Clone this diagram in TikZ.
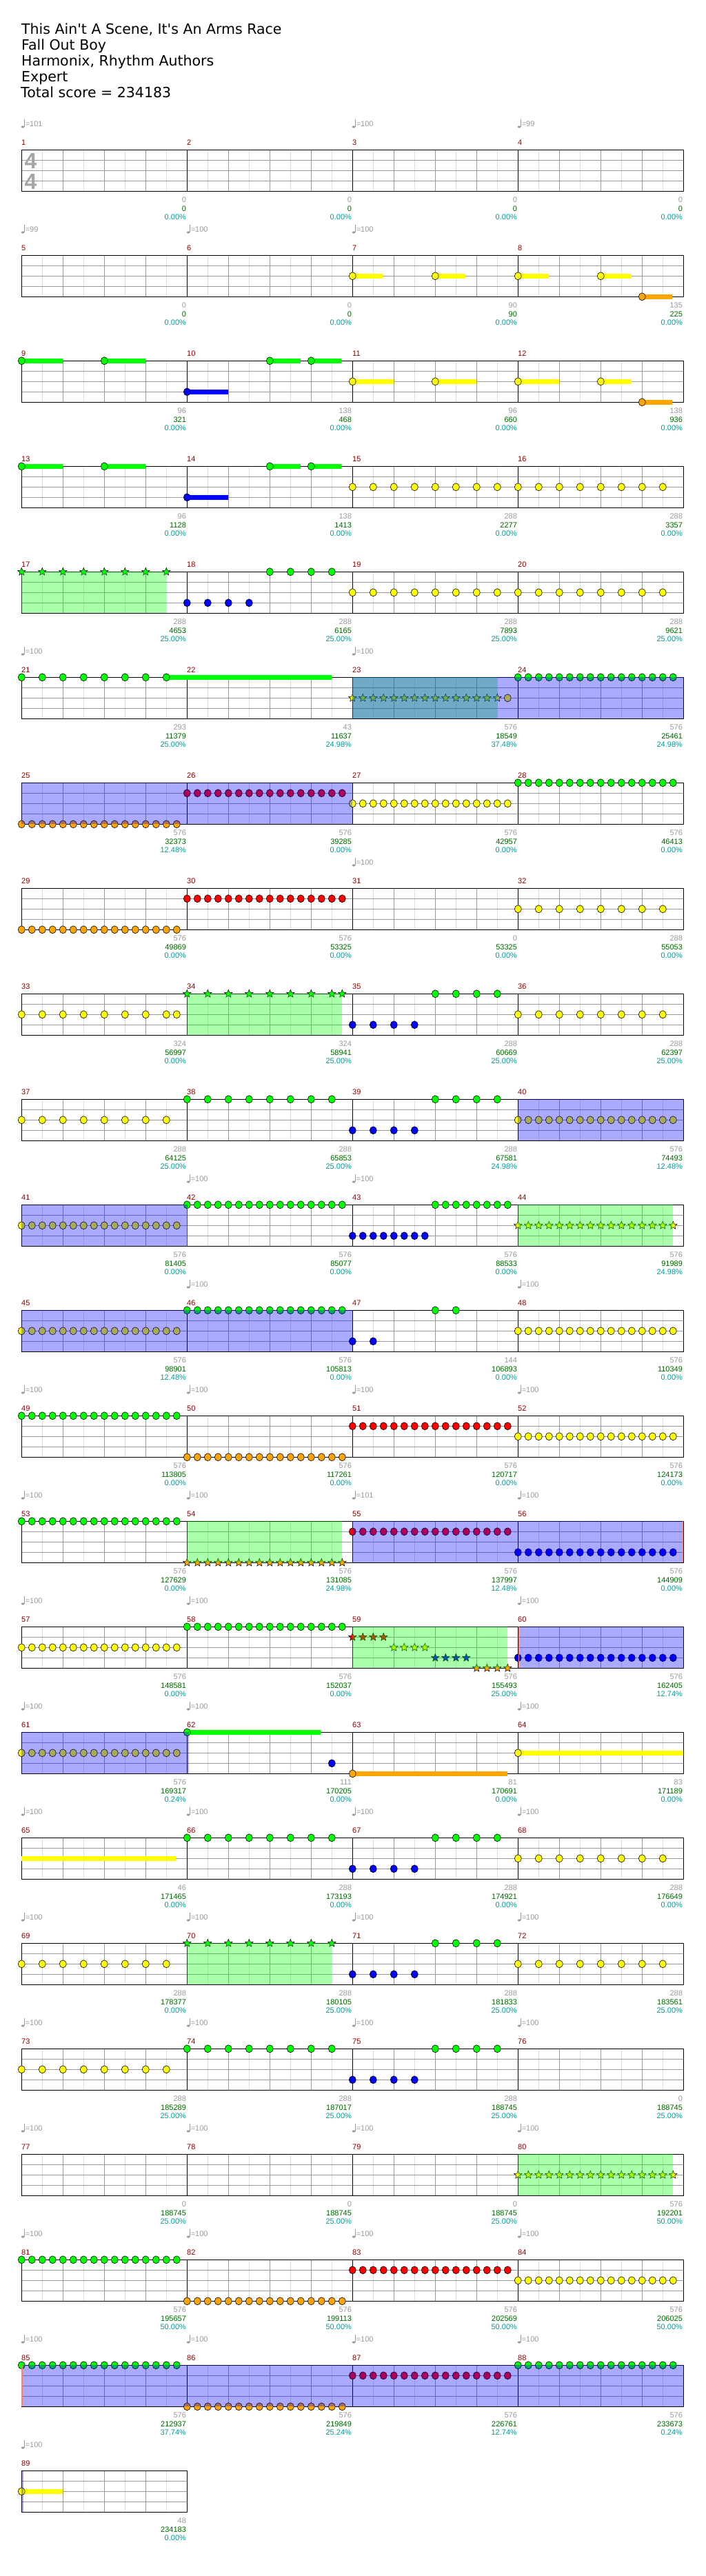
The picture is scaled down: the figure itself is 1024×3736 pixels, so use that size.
\documentclass[tikz,border=0pt]{standalone}
\usepackage{fontspec}
\setmainfont{Liberation Sans}
\newfontfamily\titlefam{DejaVu Sans}
\usetikzlibrary{shapes.geometric}
\definecolor{nG}{RGB}{0,255,0}
\definecolor{nR}{RGB}{255,0,0}
\definecolor{nY}{RGB}{255,255,0}
\definecolor{nB}{RGB}{0,0,255}
\definecolor{nO}{RGB}{255,165,0}
\definecolor{lg}{RGB}{221,221,221}
\definecolor{mg}{RGB}{153,153,153}
\definecolor{tsg}{RGB}{165,165,165}
\definecolor{barred}{RGB}{139,0,0}
\definecolor{scgreen}{RGB}{0,100,0}
\definecolor{pcteal}{RGB}{0,153,153}
\definecolor{salm}{RGB}{250,130,120}
\newcommand\smallf{\fontsize{11}{13}\selectfont}
\newcommand\titlef{\titlefam\fontsize{20.5}{23}\selectfont}
\newcommand\chSetM[1]{\pgfmathtruncatemacro\mrow{(#1-1)/4}\pgfmathtruncatemacro\mcol{#1-1-4*\mrow}\pgfmathsetmacro\mx{31.3+240*\mcol}\pgfmathsetmacro\my{217.3+153*\mrow}}
% notes: measure, lane offset, colour, start, step, count
\newcommand\chNotes[6]{\chSetM{#1}\foreach \k in {1,...,#6}{\filldraw[fill=#3,notehead] (\mx+#4+#5*\k-#5,\my+#2) ellipse[x radius=5,y radius=5.5];}}
\newcommand\chStars[6]{\chSetM{#1}\foreach \k in {1,...,#6}{\node[starnote,fill=#3] at (\mx+#4+#5*\k-#5,\my+#2) {};}}
\newcommand\chSus[5]{\chSetM{#1}\fill[#3] (\mx+#4,\my+#2-3.5) rectangle (\mx+#5,\my+#2+3.5);}
\newcommand\chGreen[3]{\chSetM{#1}\fill[nG,fill opacity=0.333] (\mx+#2,\my) rectangle (\mx+#3,\my+60);}
\newcommand\chBlue[3]{\chSetM{#1}\fill[nB,fill opacity=0.333] (\mx+#2,\my) rectangle (\mx+#3,\my+60);}
\newcommand\chMark[3]{\chSetM{#1}\draw[#3,line width=1.2] (\mx+#2,\my) -- ++(0,60);}
\newcommand\chGrid[2]{\pgfmathsetmacro\gT{217.3+153*(#1-1)}\pgfmathsetmacro\gW{240*#2}%
 \foreach \c in {1,...,#2}{\foreach \bb in {30,90,150,210}{\draw[lg] (31.3+240*\c-240+\bb,\gT) -- ++(0,60);}}%
 \foreach \yy in {15,30,45}{\draw[mg] (31.3,\gT+\yy) -- ++(\gW,0);}%
 \foreach \c in {1,...,#2}{\foreach \bb in {60,120,180}{\draw[mg] (31.3+240*\c-240+\bb,\gT) -- ++(0,60);}\draw[black] (31.3+240*\c-240,\gT) -- ++(0,60);}%
 \draw[black,line width=1.2] (31.3,\gT) rectangle ++(\gW,60);}
\tikzset{notehead/.style={draw=black,line width=0.6},
 starnote/.style={star,star points=5,star point ratio=2.3,minimum size=12,inner sep=0,draw=black,line width=0.5}}
\begin{document}
\begin{tikzpicture}[x=1pt,y=-1pt]
\fill[white] (0,0) rectangle (1024,3736);
\useasboundingbox (0,0) rectangle (1024,3736);
% title
\node[anchor=base west,inner sep=0,font=\titlef] (t1) at (31,49.3) {This Ain\textquotesingle t A Scene, It\textquotesingle s An Arms Race};
\node[anchor=base west,inner sep=0,font=\titlef] (t2) at (31,72.3) {Fall Out Boy};
\node[anchor=base west,inner sep=0,font=\titlef] (t3) at (31,95.3) {Harmonix, Rhythm Authors};
\node[anchor=base west,inner sep=0,font=\titlef] (t4) at (31,118.3) {Expert};
\node[anchor=base west,inner sep=0,font=\titlef] (t5) at (30,141.3) {Total score = 234183};
% grids
\foreach \r in {1,...,22}{\chGrid{\r}{4}}
\chGrid{23}{1}
% time signature
\node[inner sep=0,text=tsg,font=\fontsize{32}{32}\bfseries\selectfont] (ts1) at (44.5,233.3) {4};
\node[inner sep=0,text=tsg,font=\fontsize{32}{32}\bfseries\selectfont] (ts2) at (44.5,263.3) {4};
% row 2
\chSus{7}{30}{nY}{0}{44}\chSus{7}{30}{nY}{120}{164}\chNotes{7}{30}{nY}{0}{120}{2}
\chSus{8}{30}{nY}{0}{45}\chSus{8}{30}{nY}{120}{165}\chNotes{8}{30}{nY}{0}{120}{2}
\chSus{8}{60}{nO}{180}{224}\chNotes{8}{60}{nO}{180}{30}{1}
% row 3
\chSus{9}{0}{nG}{0}{59.5}\chSus{9}{0}{nG}{120}{179.5}\chNotes{9}{0}{nG}{0}{120}{2}
\chSus{10}{0}{nG}{120}{165}\chSus{10}{0}{nG}{180}{224}\chNotes{10}{0}{nG}{120}{60}{2}
\chSus{10}{45}{nB}{0}{60}\chNotes{10}{45}{nB}{0}{30}{1}
\chSus{11}{30}{nY}{0}{59.5}\chSus{11}{30}{nY}{120}{179.5}\chNotes{11}{30}{nY}{0}{120}{2}
\chSus{12}{30}{nY}{0}{59.5}\chSus{12}{30}{nY}{120}{165}\chNotes{12}{30}{nY}{0}{120}{2}
\chSus{12}{60}{nO}{180}{224}\chNotes{12}{60}{nO}{180}{30}{1}
% row 4
\chSus{13}{0}{nG}{0}{59.5}\chSus{13}{0}{nG}{120}{179.5}\chNotes{13}{0}{nG}{0}{120}{2}
\chSus{14}{0}{nG}{120}{165}\chSus{14}{0}{nG}{180}{224}\chNotes{14}{0}{nG}{120}{60}{2}
\chSus{14}{45}{nB}{0}{60}\chNotes{14}{45}{nB}{0}{30}{1}
\chNotes{15}{30}{nY}{0}{30}{16}
% row 5
\chStars{17}{0}{nG}{0}{30}{8}
\chNotes{18}{45}{nB}{0}{30}{4}\chNotes{18}{0}{nG}{120}{30}{4}
\chNotes{19}{30}{nY}{0}{30}{16}
% row 6
\chSus{21}{0}{nG}{210}{450}\chNotes{21}{0}{nG}{0}{30}{8}
\chStars{23}{30}{nY}{0}{15}{15}\chNotes{23}{30}{nY}{225}{15}{1}
\chNotes{24}{0}{nG}{0}{15}{16}
% row 7
\chNotes{25}{60}{nO}{0}{15}{16}\chNotes{26}{15}{nR}{0}{15}{16}
\chNotes{27}{30}{nY}{0}{15}{16}\chNotes{28}{0}{nG}{0}{15}{16}
% row 8
\chNotes{29}{60}{nO}{0}{15}{16}\chNotes{30}{15}{nR}{0}{15}{16}
\chNotes{32}{30}{nY}{0}{30}{8}
% row 9
\chNotes{33}{30}{nY}{0}{30}{8}\chNotes{33}{30}{nY}{225}{15}{1}
\chStars{34}{0}{nG}{0}{30}{8}\chStars{34}{0}{nG}{225}{15}{1}
\chNotes{35}{45}{nB}{0}{30}{4}\chNotes{35}{0}{nG}{120}{30}{4}
\chNotes{36}{30}{nY}{0}{30}{8}
% row 10
\chNotes{37}{30}{nY}{0}{30}{8}\chNotes{38}{0}{nG}{0}{30}{8}
\chNotes{39}{45}{nB}{0}{30}{4}\chNotes{39}{0}{nG}{120}{30}{4}
\chNotes{40}{30}{nY}{0}{15}{16}
% row 11
\chNotes{41}{30}{nY}{0}{15}{16}\chNotes{42}{0}{nG}{0}{15}{16}
\chNotes{43}{45}{nB}{0}{15}{8}\chNotes{43}{0}{nG}{120}{15}{8}
\chStars{44}{30}{nY}{0}{15}{16}
% row 12
\chNotes{45}{30}{nY}{0}{15}{16}\chNotes{46}{0}{nG}{0}{15}{16}
\chNotes{47}{45}{nB}{0}{30}{2}\chNotes{47}{0}{nG}{120}{30}{2}
\chNotes{48}{30}{nY}{0}{15}{16}
% row 13
\chNotes{49}{0}{nG}{0}{15}{16}\chNotes{50}{60}{nO}{0}{15}{16}
\chNotes{51}{15}{nR}{0}{15}{16}\chNotes{52}{30}{nY}{0}{15}{16}
% row 14
\chNotes{53}{0}{nG}{0}{15}{16}\chStars{54}{60}{nO}{0}{15}{16}
\chNotes{55}{15}{nR}{0}{15}{16}\chNotes{56}{45}{nB}{0}{15}{16}
% row 15
\chNotes{57}{30}{nY}{0}{15}{16}\chNotes{58}{0}{nG}{0}{15}{16}
\chStars{59}{15}{nR}{0}{15}{4}\chStars{59}{30}{nY}{60}{15}{4}
\chStars{59}{45}{nB}{120}{15}{4}\chStars{59}{60}{nO}{180}{15}{4}
\chNotes{60}{45}{nB}{0}{15}{16}
% row 16
\chNotes{61}{30}{nY}{0}{15}{16}
\chSus{62}{0}{nG}{0}{194}\chNotes{62}{0}{nG}{0}{15}{1}\chNotes{62}{45}{nB}{210}{15}{1}
\chSus{63}{60}{nO}{0}{224.3}\chNotes{63}{60}{nO}{0}{15}{1}
\chSus{64}{30}{nY}{0}{240}\chNotes{64}{30}{nY}{0}{15}{1}
% row 17
\chSus{65}{30}{nY}{0}{224}
\chNotes{66}{0}{nG}{0}{30}{8}
\chNotes{67}{45}{nB}{0}{30}{4}\chNotes{67}{0}{nG}{120}{30}{4}
\chNotes{68}{30}{nY}{0}{30}{8}
% row 18
\chNotes{69}{30}{nY}{0}{30}{8}\chStars{70}{0}{nG}{0}{30}{8}
\chNotes{71}{45}{nB}{0}{30}{4}\chNotes{71}{0}{nG}{120}{30}{4}
\chNotes{72}{30}{nY}{0}{30}{8}
% row 19
\chNotes{73}{30}{nY}{0}{30}{8}\chNotes{74}{0}{nG}{0}{30}{8}
\chNotes{75}{45}{nB}{0}{30}{4}\chNotes{75}{0}{nG}{120}{30}{4}
% row 20
\chStars{80}{30}{nY}{0}{15}{16}
% row 21
\chNotes{81}{0}{nG}{0}{15}{16}\chNotes{82}{60}{nO}{0}{15}{16}
\chNotes{83}{15}{nR}{0}{15}{16}\chNotes{84}{30}{nY}{0}{15}{16}
% row 22
\chNotes{85}{0}{nG}{0}{15}{16}\chNotes{86}{60}{nO}{0}{15}{16}
\chNotes{87}{15}{nR}{0}{15}{16}\chNotes{88}{0}{nG}{0}{15}{16}
% row 23
\chSus{89}{30}{nY}{0}{59.5}\chNotes{89}{30}{nY}{0}{15}{1}
% overlays
\chGreen{17}{0}{210}
\chGreen{23}{0}{210}\chBlue{23}{0}{480}
\chBlue{25}{0}{480}
\chGreen{34}{0}{225}
\chBlue{40}{0}{240}
\chBlue{41}{0}{240}\chGreen{44}{0}{225}
\chBlue{45}{0}{480}
\chGreen{54}{0}{225}\chBlue{55}{0}{480}
\chGreen{59}{0}{225}\chBlue{60}{1.5}{240}
\chBlue{61}{0}{243}
\chGreen{70}{0}{210}
\chGreen{80}{0}{225}
\chBlue{85}{0}{960}
\chBlue{89}{0}{3}
% marker lines
\chMark{42}{0.3}{red}
\chMark{56}{239.5}{salm}
\chMark{60}{0.8}{salm}
\chMark{85}{0.6}{salm}
% bar numbers
\foreach \m in {1,...,89}{\chSetM{\m}\node[anchor=west,inner sep=0,text=barred,font=\smallf] at (\mx-0.3,\my-11) {\m};}
% tempo marks
\foreach \m/\tv in {1/101,3/100,4/99,5/99,6/100,7/100,21/100,23/100,31/100,42/100,43/100,46/100,48/100,49/100,50/100,51/100,52/100,53/100,54/100,55/101,56/100,57/100,58/100,60/100,61/100,62/100,64/100,65/100,66/100,67/100,68/100,69/100,70/100,71/100,72/100,73/100,74/100,75/100,76/100,77/100,78/100,79/100,80/100,81/100,82/100,83/100,84/100,85/100,86/100,87/100,88/100,89/100}{%
 \chSetM{\m}%
 \fill[mg] (\mx+1.8,\my-33.3) ellipse[x radius=2.2,y radius=1.6];%
 \draw[mg,line width=0.8] (\mx+3.6,\my-44) -- (\mx+3.6,\my-33.5);%
 \node[anchor=west,inner sep=0,text=mg,font=\smallf] at (\mx+5.3,\my-37.3) {=\tv};}
% score labels
\foreach \m/\vA/\vB/\vC in {
1/0/0/0.00, 2/0/0/0.00, 3/0/0/0.00, 4/0/0/0.00,
5/0/0/0.00, 6/0/0/0.00, 7/90/90/0.00, 8/135/225/0.00,
9/96/321/0.00, 10/138/468/0.00, 11/96/660/0.00, 12/138/936/0.00,
13/96/1128/0.00, 14/138/1413/0.00, 15/288/2277/0.00, 16/288/3357/0.00,
17/288/4653/25.00, 18/288/6165/25.00, 19/288/7893/25.00, 20/288/9621/25.00,
21/293/11379/25.00, 22/43/11637/24.98, 23/576/18549/37.48, 24/576/25461/24.98,
25/576/32373/12.48, 26/576/39285/0.00, 27/576/42957/0.00, 28/576/46413/0.00,
29/576/49869/0.00, 30/576/53325/0.00, 31/0/53325/0.00, 32/288/55053/0.00,
33/324/56997/0.00, 34/324/58941/25.00, 35/288/60669/25.00, 36/288/62397/25.00,
37/288/64125/25.00, 38/288/65853/25.00, 39/288/67581/24.98, 40/576/74493/12.48,
41/576/81405/0.00, 42/576/85077/0.00, 43/576/88533/0.00, 44/576/91989/24.98,
45/576/98901/12.48, 46/576/105813/0.00, 47/144/106893/0.00, 48/576/110349/0.00,
49/576/113805/0.00, 50/576/117261/0.00, 51/576/120717/0.00, 52/576/124173/0.00,
53/576/127629/0.00, 54/576/131085/24.98, 55/576/137997/12.48, 56/576/144909/0.00,
57/576/148581/0.00, 58/576/152037/0.00, 59/576/155493/25.00, 60/576/162405/12.74,
61/576/169317/0.24, 62/111/170205/0.00, 63/81/170691/0.00, 64/83/171189/0.00,
65/46/171465/0.00, 66/288/173193/0.00, 67/288/174921/0.00, 68/288/176649/0.00,
69/288/178377/0.00, 70/288/180105/25.00, 71/288/181833/25.00, 72/288/183561/25.00,
73/288/185289/25.00, 74/288/187017/25.00, 75/288/188745/25.00, 76/0/188745/25.00,
77/0/188745/25.00, 78/0/188745/25.00, 79/0/188745/25.00, 80/576/192201/50.00,
81/576/195657/50.00, 82/576/199113/50.00, 83/576/202569/50.00, 84/576/206025/50.00,
85/576/212937/37.74, 86/576/219849/25.24, 87/576/226761/12.74, 88/576/233673/0.24,
89/48/234183/0.00}{%
 \chSetM{\m}%
 \node[anchor=east,inner sep=0,text=mg,font=\smallf] at (\mx+238.8,\my+72) {\vA};%
 \node[anchor=east,inner sep=0,text=scgreen,font=\smallf] at (\mx+238.8,\my+85) {\vB};%
 \node[anchor=east,inner sep=0,text=pcteal,font=\smallf] at (\mx+238.8,\my+97.7) {\vC\%};}
\end{tikzpicture}
\end{document}
